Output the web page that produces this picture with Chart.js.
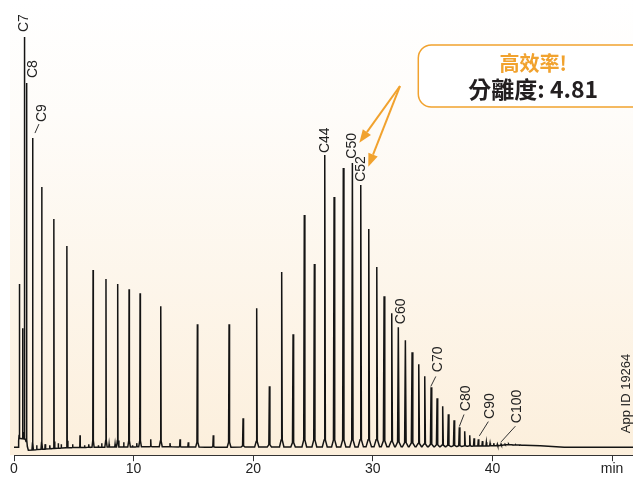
<!DOCTYPE html>
<html>
<head>
<meta charset="utf-8">
<script src="https://cdn.jsdelivr.net/npm/chart.js@4.4.1/dist/chart.umd.min.js"></script>
<style>
  html, body { margin: 0; padding: 0; background: #fff; }
</style>
</head>
<body>
<canvas id="chromatogram" width="633" height="479"></canvas>
<script>
// Peaks: retention time (min) and apex height (relative units)
const peakTimes = [0.44, 0.73, 0.86, 1.06, 1.56, 2.32, 3.34, 4.43, 6.61, 7.69, 8.67, 9.62, 10.54, 12.27,
  15.33, 17.98, 19.15, 20.29, 21.35, 22.38, 23.33, 24.27, 25.11, 25.98, 26.76, 27.53, 28.29, 28.99,
  29.66, 30.33, 30.94, 31.58, 32.13, 32.72, 33.28, 33.84, 34.34, 34.87, 35.37, 35.84, 36.31, 36.79,
  37.23, 37.68, 38.10, 38.46, 38.82, 39.16, 39.49, 39.80, 40.11, 40.41, 40.72];
const peakHeights = [163, 119, 410, 364, 309, 260, 228, 201, 177, 168, 163, 158, 154, 141,
  123, 123, 29, 139, 61, 175, 113, 232, 183, 292, 250, 279, 284, 262,
  218, 180, 151, 134, 120, 107, 95, 83, 71, 60, 49, 41, 33, 27,
  20, 16, 12, 9, 8, 6, 5, 4, 4, 3, 3];

// Small baseline blips
const blipTimes = [1.9, 2.6, 3.0, 3.7, 3.95, 4.9, 5.52, 5.9, 6.25, 7.05, 7.33, 7.95, 8.45, 9.17, 9.9,
  10.26, 11.43, 13.04, 13.88, 14.57, 16.66, 41.05, 41.35, 41.65, 41.95, 42.25, 42.55];
const blipHeights = [2, 3, 2, 4, 3, 3, 12, 2, 3, 2, 4, 3, 3, 5, 2,
  4, 8, 4, 8, 5, 12, 3, 3, 2.5, 2.5, 2, 2];

// Baseline drift
const baseTimes = [0, 0.36, 0.40, 0.95, 1.2, 2.5, 4.5, 7, 12, 16, 36, 40.5, 41.2, 44, 46, 51.75];
const baseLevels = [0, 0, 9, 8, -3, -2, -0.5, 0, 0.5, 0, 0.5, 1.5, 2.5, 1.5, 0, 0];

// Labelled peaks
const labelNames = ['C7', 'C8', 'C9', 'C44', 'C50', 'C52', 'C60', 'C70', 'C80', 'C90', 'C100'];
const labelTimes = [0.86, 1.06, 1.56, 25.98, 28.29, 28.99, 32.13, 34.87, 37.23, 38.82, 40.72];

// x axis
const tickValues = [0, 10, 20, 30, 40, 50];
const tickLabels = ['0', '10', '20', '30', '40', 'min'];

const boxTitle = '高效率!';
const boxText = '分離度: 4.81';
const appId = 'App ID 19264';

const ORANGE = '#f1a22e';
const INK = '#222';
const LATIN = "'Liberation Sans', Arial, sans-serif";
const CJK = "'Noto Sans CJK TC', 'Noto Sans CJK SC', sans-serif";

// baseline level at time t
function baseAt(t) {
  for (let i = 1; i < baseTimes.length; i++) {
    if (t <= baseTimes[i]) {
      const f = (t - baseTimes[i - 1]) / (baseTimes[i] - baseTimes[i - 1]);
      return baseLevels[i - 1] + f * (baseLevels[i] - baseLevels[i - 1]);
    }
  }
  return baseLevels[baseLevels.length - 1];
}

// build the trace: each peak is a narrow spike with a slightly flared foot on the baseline
const allTimes = peakTimes.concat(blipTimes);
const allHeights = peakHeights.concat(blipHeights);
const order = allTimes.map((t, i) => i).sort((a, b) => allTimes[a] - allTimes[b]);
const trace = [];
const windows = [];
order.forEach((idx, k) => {
  const t = allTimes[idx];
  const h = allHeights[idx];
  const prev = k > 0 ? allTimes[order[k - 1]] : -Infinity;
  const next = k < order.length - 1 ? allTimes[order[k + 1]] : Infinity;
  const w = Math.min(0.05 + 0.006 * t, 0.45 * (t - prev), 0.45 * (next - t));
  const bL = baseAt(t - w), bR = baseAt(t + w);
  trace.push(
    { x: t - w, y: bL },
    { x: t - 0.25 * w, y: bL + Math.min(0.04 * (h - bL), 7) },
    { x: t, y: h },
    { x: t + 0.25 * w, y: bR + Math.min(0.04 * (h - bR), 7) },
    { x: t + w, y: bR }
  );
  windows.push([t - w, t + w]);
});
baseTimes.forEach((t, i) => {
  if (!windows.some(([a, b]) => t > a && t < b)) trace.push({ x: t, y: baseLevels[i] });
});
trace.sort((a, b) => a.x - b.x);

function apexHeight(t) {
  let best = 0;
  allTimes.forEach((pt, i) => {
    if (Math.abs(pt - t) < Math.abs(allTimes[best] - t)) best = i;
  });
  return allHeights[best];
}

// label placement relative to the peak apex (pixels)
const labelLayout = {
  C7: { dx: 0, dy: -5 },
  C8: { dx: 6, dy: -5 },
  C9: { dx: 9.3, dy: -16, lead: [2.3, -5, 6.3, -14] },
  C44: { dx: 0, dy: -2 },
  C50: { dx: -0.6, dy: -4.4 },
  C52: { dx: 0.6, dy: -3.3 },
  C60: { dx: 3.2, dy: -3 },
  C70: { dx: 7, dy: -15, lead: [-0.3, -0.7, 4.7, -10.7] },
  C80: { dx: 6.7, dy: -16, lead: [0, -0.7, 4.7, -12.7] },
  C90: { dx: 11.7, dy: -20.3, lead: [1, -3.3, 10, -17.6] },
  C100: { dx: 16, dy: -21, lead: [0, -2.3, 14.3, -18] }
};

const backgroundPlugin = {
  id: 'paper',
  beforeDraw(chart) {
    const { ctx, chartArea } = chart;
    const g = ctx.createLinearGradient(0, chartArea.top, 0, chartArea.bottom);
    g.addColorStop(0, '#ffffff');
    g.addColorStop(0.25, '#fefcf9');
    g.addColorStop(1, '#fcefdc');
    ctx.save();
    ctx.fillStyle = g;
    ctx.fillRect(chartArea.left - 4, chartArea.top, chartArea.right - chartArea.left + 4, chartArea.bottom - chartArea.top);
    ctx.restore();
  }
};

function arrow(ctx, x1, y1, x2, y2) {
  const ang = Math.atan2(y2 - y1, x2 - x1);
  const len = 13, half = 5;
  const bx = x2 - len * Math.cos(ang), by = y2 - len * Math.sin(ang);
  ctx.beginPath();
  ctx.moveTo(x1, y1);
  ctx.lineTo(bx, by);
  ctx.stroke();
  ctx.beginPath();
  ctx.moveTo(x2, y2);
  ctx.lineTo(bx + half * Math.sin(ang), by - half * Math.cos(ang));
  ctx.lineTo(bx - half * Math.sin(ang), by + half * Math.cos(ang));
  ctx.closePath();
  ctx.fill();
}

const annotationPlugin = {
  id: 'annotations',
  afterDraw(chart) {
    const { ctx, chartArea } = chart;
    const xs = chart.scales.x, ys = chart.scales.y;
    ctx.save();

    // peak labels
    ctx.font = '14px ' + LATIN;
    ctx.fillStyle = INK;
    ctx.strokeStyle = '#333';
    ctx.lineWidth = 1;
    labelNames.forEach((name, i) => {
      const t = labelTimes[i];
      const ax = xs.getPixelForValue(t);
      const ay = ys.getPixelForValue(apexHeight(t));
      const L = labelLayout[name];
      if (L.lead) {
        ctx.beginPath();
        ctx.moveTo(ax + L.lead[0], ay + L.lead[1]);
        ctx.lineTo(ax + L.lead[2], ay + L.lead[3]);
        ctx.stroke();
      }
      ctx.save();
      ctx.translate(ax + L.dx, ay + L.dy);
      ctx.rotate(-Math.PI / 2);
      ctx.textAlign = 'left';
      ctx.textBaseline = 'middle';
      ctx.fillText(name, 0, 0);
      ctx.restore();
    });

    // app id
    ctx.save();
    ctx.font = '13px ' + LATIN;
    ctx.translate(chartArea.right - 7, chartArea.bottom - 22);
    ctx.rotate(-Math.PI / 2);
    ctx.textAlign = 'left';
    ctx.textBaseline = 'middle';
    ctx.fillText(appId, 0, 0);
    ctx.restore();

    // callout box
    const bl = xs.getPixelForValue(33.8), bt = ys.getPixelForValue(402), bb = ys.getPixelForValue(340);
    const br = chartArea.right + 30, r = 13;
    ctx.strokeStyle = ORANGE;
    ctx.lineWidth = 1.5;
    ctx.fillStyle = '#ffffff';
    ctx.beginPath();
    ctx.moveTo(bl + r, bt);
    ctx.lineTo(br, bt);
    ctx.lineTo(br, bb);
    ctx.lineTo(bl + r, bb);
    ctx.arcTo(bl, bb, bl, bb - r, r);
    ctx.lineTo(bl, bt + r);
    ctx.arcTo(bl, bt, bl + r, bt, r);
    ctx.closePath();
    ctx.fill();
    ctx.stroke();

    const cx = xs.getPixelForValue(43.4);
    ctx.textAlign = 'center';
    ctx.textBaseline = 'middle';
    ctx.fillStyle = ORANGE;
    ctx.font = 'bold 20px ' + CJK;
    ctx.fillText(boxTitle, cx, bt + 18.3);
    ctx.fillStyle = '#231f20';
    ctx.font = 'bold 23px ' + CJK;
    ctx.fillText(boxText, cx, bt + 44.7);

    // arrows pointing at C50 / C52
    ctx.strokeStyle = ORANGE;
    ctx.fillStyle = ORANGE;
    ctx.lineWidth = 2;
    const sx = xs.getPixelForValue(32.27), sy = ys.getPixelForValue(361);
    arrow(ctx, sx, sy, xs.getPixelForValue(28.87), ys.getPixelForValue(304.3));
    arrow(ctx, sx, sy, xs.getPixelForValue(29.62), ys.getPixelForValue(280.3));

    ctx.restore();
  }
};

const ctx = document.getElementById('chromatogram').getContext('2d');
new Chart(ctx, {
  type: 'line',
  data: {
    datasets: [{
      data: trace,
      borderColor: '#141414',
      borderWidth: 1.5,
      pointRadius: 0,
      tension: 0,
      fill: false
    }]
  },
  options: {
    responsive: false,
    animation: false,
    layout: { padding: { left: 14, right: 0, top: 0, bottom: 1 } },
    plugins: { legend: { display: false }, tooltip: { enabled: false } },
    scales: {
      x: {
        type: 'linear',
        min: 0,
        max: 51.75,
        afterBuildTicks: (scale) => { scale.ticks = tickValues.map(v => ({ value: v })); },
        ticks: {
          callback: (v, i) => tickLabels[i],
          color: INK,
          font: { family: LATIN, size: 14 },
          padding: 0,
          maxRotation: 0,
          autoSkip: false
        },
        grid: { drawOnChartArea: false, drawTicks: true, tickLength: 6, color: '#333' },
        border: { display: true, color: '#333', width: 1 }
      },
      y: { display: false, min: -8, max: 447 }
    }
  },
  plugins: [backgroundPlugin, annotationPlugin]
});
</script>
</body>
</html>
